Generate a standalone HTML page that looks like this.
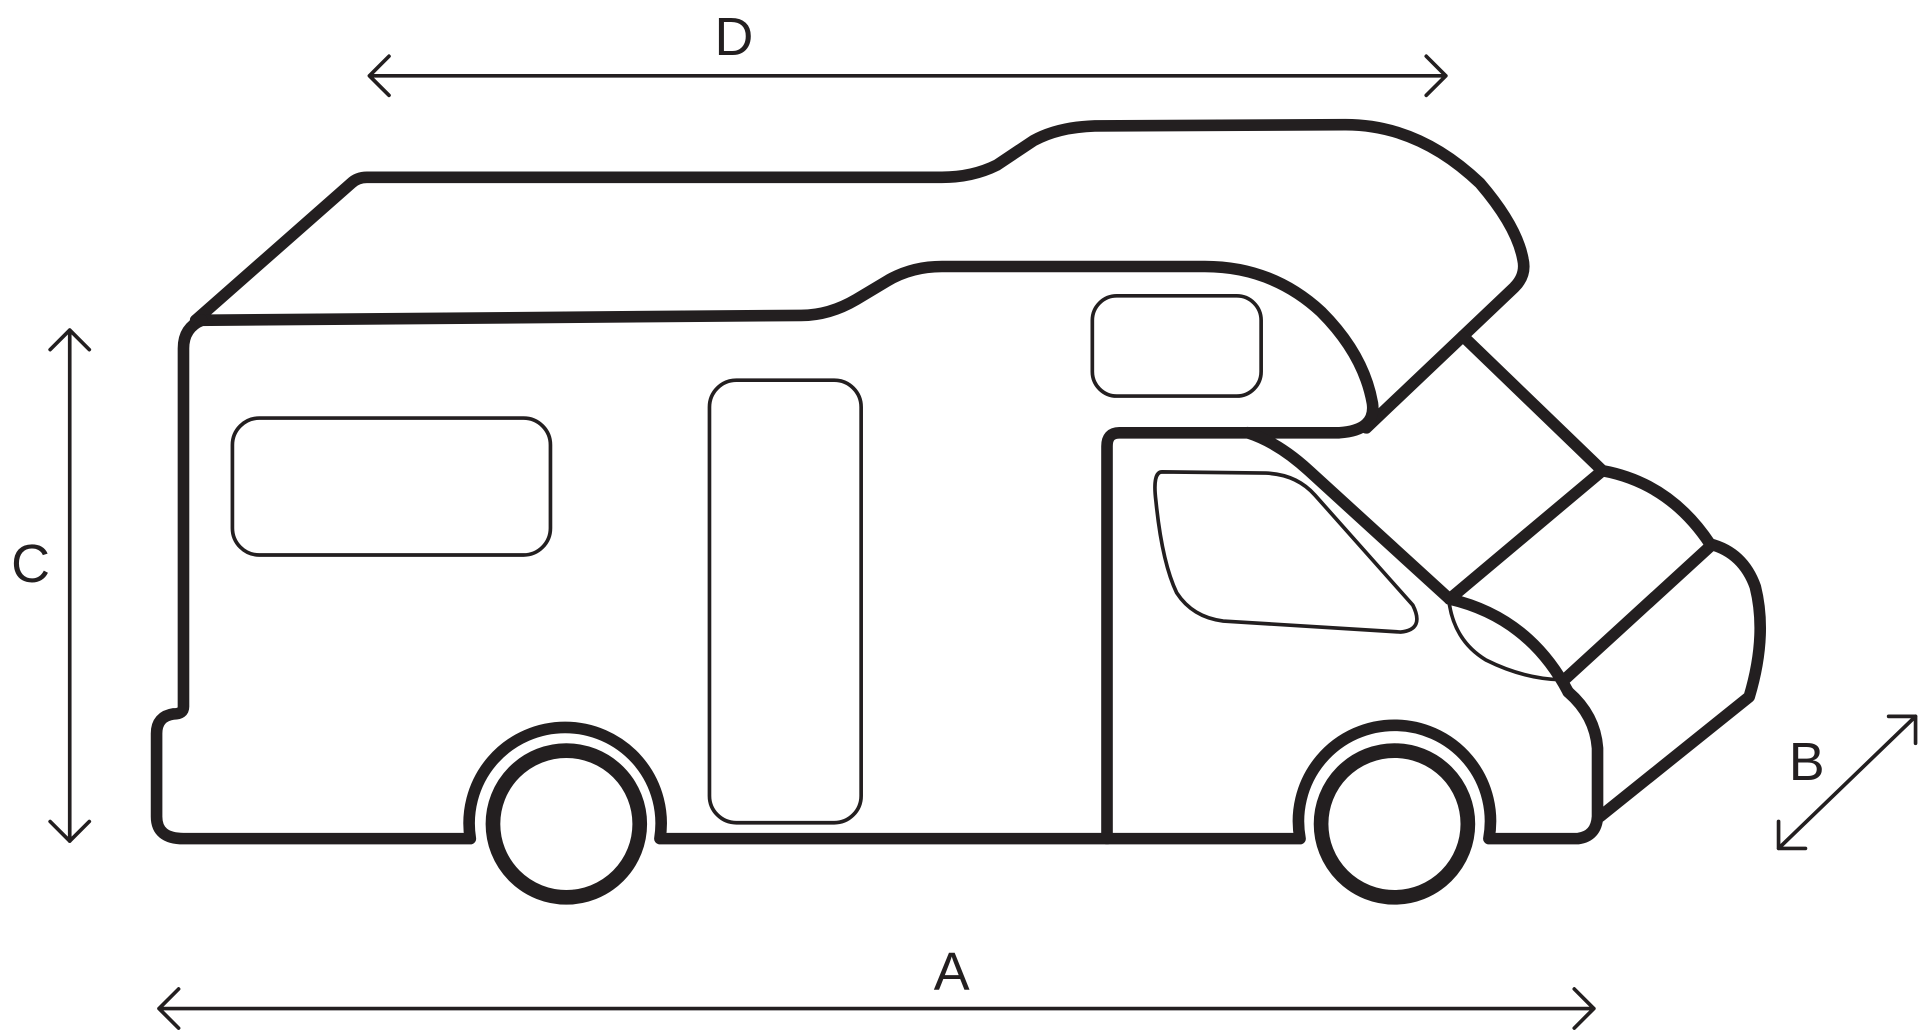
<!DOCTYPE html>
<html><head><meta charset="utf-8"><style>
html,body{margin:0;padding:0;background:#fff;width:1918px;height:1033px;overflow:hidden}
svg{display:block}
text{font-family:"Liberation Sans",sans-serif;font-size:44px;fill:#231f20}
</style></head><body>
<svg width="1918" height="1033" viewBox="0 0 1568 845" preserveAspectRatio="none">
<g fill="none" stroke="#231f20" stroke-width="9.5" stroke-linejoin="round" stroke-linecap="round">
<path d="M160,262 L287,150 Q292,145 300,145 L770,145 Q795,145 815,135 L845,115 Q865,104 895,103 L1100,102 Q1160,102 1210,150 Q1240,185 1245,212 Q1248,225 1238,235 L1117,350"/>
<path d="M160,262 L655,258 Q678,258 700,245 L725,230 Q745,218 770,218 L985,218 Q1040,218 1080,255 Q1115,290 1122,330 Q1125,352 1095,354 L915,354 Q905,354 905,365 L905,686"/>
<path d="M165,262 Q150,268 150,285 L150,578 Q150,584 142,584 Q128,586 128,600 L128,668 Q128,686 150,686 L384.5,686 A78.5,78.5 0 1 1 539.5,686 L1062.8,686 A78.5,78.5 0 1 1 1217.2,686 L1290,686 Q1305,684 1306,668 L1306,612 Q1304,585 1282,566"/>
<path d="M1020,354 Q1045,362 1070,385 L1185,490"/>
<path d="M1196,275 L1310,385"/>
<path d="M1310,385 L1185,490"/>
<path d="M1398,447 L1280,555"/>
<path d="M1310,385 Q1365,395 1398,445 Q1425,452 1435,480 Q1445,520 1430,570 L1308,668"/>
<path d="M1185,490 Q1250,505 1282,566"/>
</g>
<g fill="none" stroke="#231f20" stroke-width="12">
<circle cx="463" cy="674" r="60"/>
<circle cx="1140" cy="674" r="60"/>
</g>
<g fill="none" stroke="#231f20" stroke-width="3" stroke-linejoin="round" stroke-linecap="round">
<rect x="190" y="342" width="260" height="112" rx="22"/>
<rect x="580" y="311" width="124" height="362" rx="22"/>
<rect x="893" y="242" width="138" height="82" rx="20"/>
<path d="M950,386 L1035,387 Q1060,388 1075,405 L1155,495 Q1165,515 1145,517 L1000,508 Q975,505 962,485 Q950,460 945,410 Q942,386 950,386 Z"/>
<path d="M1185,495 Q1190,525 1215,540 Q1245,555 1275,556"/>
<path d="M302,62 L1182,62 M318,46 L302,62 L318,78 M1166,46 L1182,62 L1166,78"/>
<path d="M130,825 L1303,825 M146,809 L130,825 L146,841 M1287,809 L1303,825 L1287,841"/>
<path d="M57,270 L57,688 M41,286 L57,270 L73,286 M41,672 L57,688 L73,672"/>
<path d="M1454,694 L1566,586 M1454,672 L1454,694 L1476,694 M1544,586 L1566,586 L1566,608"/>
</g>
<text x="600" y="45" text-anchor="middle">D</text>
<text x="778" y="810" text-anchor="middle">A</text>
<text x="25" y="476" text-anchor="middle">C</text>
<text x="1477" y="638" text-anchor="middle">B</text>
</svg>
</body></html>
